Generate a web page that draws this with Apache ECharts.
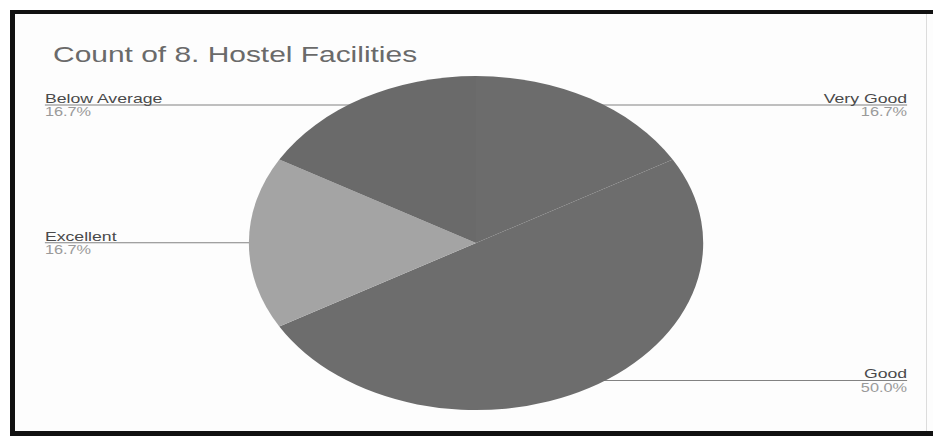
<!DOCTYPE html>
<html>
<head>
<meta charset="utf-8">
<script src="https://cdn.jsdelivr.net/npm/echarts@6/dist/echarts.min.js"></script>
<style>
html,body{margin:0;padding:0;width:933px;height:438px;overflow:hidden;background:#ffffff;}
.bar{position:absolute;background:#111;}
#inner{position:absolute;left:15px;top:14px;width:918px;height:417px;background:#fdfdfd;}
#rline{position:absolute;left:926px;top:14px;width:1px;height:417px;background:#dcdcdc;}
#clip{position:absolute;left:0;top:0;width:933px;height:438px;overflow:hidden;}
#chart{position:absolute;left:0;top:0;width:700px;height:438px;transform:scaleX(1.36);transform-origin:0 0;}
</style>
</head>
<body>
<div id="inner"></div>
<div class="bar" style="left:10px;top:10px;width:923px;height:4px;"></div>
<div class="bar" style="left:10px;top:10px;width:5px;height:426px;"></div>
<div class="bar" style="left:10px;top:431px;width:923px;height:5px;"></div>
<div id="rline"></div>
<div id="clip"><div id="chart"></div></div>
<script>
const titleText = 'Count of 8. Hostel Facilities';
const categories = ['Very Good', 'Good', 'Excellent', 'Below Average'];
const counts = [1, 3, 1, 1];
const sliceColors = ['#6c6c6c', '#6d6d6d', '#a4a4a4', '#6a6a6a'];

const FONT = '"Liberation Sans", Arial, sans-serif';
const chart = echarts.init(document.getElementById('chart'), null, {renderer: 'svg'});

const pieData = categories.map((c, i) => ({name: c, value: counts[i], itemStyle: {color: sliceColors[i]}}));
const labelData = categories.map((c, i) => ({name: c, value: counts[i]}));

chart.setOption({
  animation: false,
  title: {
    text: titleText,
    left: 34,
    top: 38,
    textStyle: {fontFamily: FONT, fontSize: 22, fontWeight: 'normal', color: '#6a6a6a'}
  },
  series: [
    {
      type: 'pie',
      z: 1,
      left: 0,
      right: 0,
      center: [350, 243],
      radius: 159,
      startAngle: 90,
      clockwise: true,
      silent: true,
      emphasis: {disabled: true},
      itemStyle: {color: 'rgba(0,0,0,0)', borderWidth: 0},
      label: {
        show: true,
        position: 'outer',
        alignTo: 'edge',
        edgeDistance: 33,
        fontFamily: FONT,
        formatter: p => '{n|' + p.name + '}\n{p|' + p.percent.toFixed(1) + '%}',
        rich: {
          n: {fontFamily: FONT, fontSize: 13, color: '#4a4a4a', lineHeight: 14},
          p: {fontFamily: FONT, fontSize: 12, color: '#9a9a9a', lineHeight: 14}
        }
      },
      labelLine: {show: true, length: 0, length2: 0, lineStyle: {color: '#828282', width: 1}},
      labelLayout: function (p) {
        const r = p.labelRect;
        const h = p.rect;
        const y = r.y + r.height / 2;
        const hx = h.x + h.width / 2;
        const isLeft = (r.x + r.width / 2) < hx;
        return {labelLinePoints: [[hx, y], [isLeft ? r.x : r.x + r.width, y]]};
      },
      data: labelData
    },
    {
      type: 'pie',
      z: 3,
      center: [350, 243],
      radius: 167,
      startAngle: 90,
      clockwise: true,
      silent: true,
      emphasis: {disabled: true},
      label: {show: false},
      labelLine: {show: false},
      itemStyle: {borderWidth: 0},
      data: pieData
    }
  ]
});
</script>
</body>
</html>
